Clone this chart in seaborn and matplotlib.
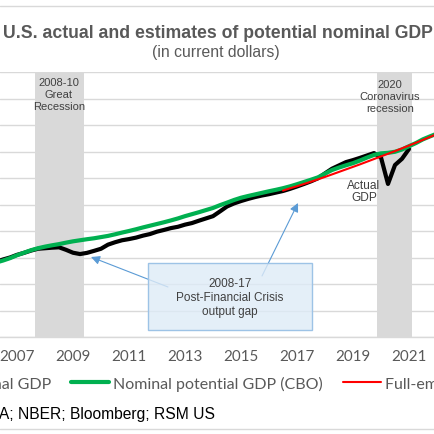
import matplotlib
matplotlib.use("Agg")
import matplotlib.pyplot as plt
from matplotlib.patches import Rectangle
from matplotlib.lines import Line2D
import seaborn as sns
import pandas as pd
import numpy as np

# ---------------- data (trillions of current dollars, quarterly) ----------------
actual_start, actual_end = "2006Q2", "2021Q1"
actual_gdp = [13.66, 13.85, 14.00,
              14.20, 14.35, 14.52, 14.66,
              14.70, 14.74, 14.77, 14.58,
              14.36, 14.26, 14.35, 14.50,
              14.66, 14.97, 15.15, 15.30,
              15.39, 15.50, 15.65, 15.77,
              15.95, 16.08, 16.22, 16.32,
              16.48, 16.60, 16.78, 16.95,
              17.12, 17.48, 17.85, 18.08,
              18.26, 18.42, 18.56, 18.68,
              18.78, 18.90, 19.02, 19.18,
              19.36, 19.55, 19.75, 19.98,
              20.35, 20.70, 20.95, 21.20,
              21.35, 21.52, 21.70, 21.88,
              21.55, 19.55, 20.98, 21.45,
              22.19]

potential_start, potential_end = "2006Q2", "2022Q1"
potential_gdp = [13.62, 13.77, 13.95,
                 14.17, 14.36, 14.55, 14.70,
                 14.82, 14.92, 15.01, 15.12,
                 15.22, 15.30, 15.38, 15.45,
                 15.54, 15.63, 15.75, 15.88,
                 16.00, 16.13, 16.27, 16.40,
                 16.53, 16.66, 16.80, 16.95,
                 17.12, 17.27, 17.42, 17.58,
                 17.74, 17.95, 18.14, 18.34,
                 18.51, 18.64, 18.76, 18.88,
                 19.00, 19.11, 19.23, 19.37,
                 19.53, 19.70, 19.87, 20.05,
                 20.33, 20.60, 20.79, 20.96,
                 21.12, 21.32, 21.54, 21.74,
                 21.86, 21.90, 21.98, 22.15,
                 22.40, 22.64, 22.92, 23.14,
                 23.35]

fullemp_start, fullemp_end = "2016Q3", "2022Q1"
fullemp_gdp = [19.05, 19.22,
               19.38, 19.55, 19.72, 19.90,
               20.08, 20.27, 20.46, 20.65,
               20.84, 21.03, 21.23, 21.43,
               21.63, 21.83, 22.03, 22.24,
               22.45, 22.66, 22.88, 23.10,
               23.32]

recessions = [(2007.64, 2009.39), (2019.86, 2021.11)]
recession_labels = ["2008-10\nGreat\nRecession", "2020\nCoronavirus\nrecession"]
series_labels = ["Actual nominal GDP", "Nominal potential GDP (CBO)",
                 "Full-employment nominal GDP"]
x_ticks = [2007, 2009, 2011, 2013, 2015, 2017, 2019, 2021]
title = "U.S. actual and estimates of potential nominal GDP"
subtitle = "(in current dollars)"
box_text = "2008-17\nPost-Financial Crisis\noutput gap"
source = "Source: BEA; NBER; Bloomberg; RSM US"


def frame(start, end, values):
    p = pd.period_range(start, end, freq="Q")
    t = p.year + (p.quarter - 1) / 4.0
    return pd.DataFrame({"t": np.asarray(t, dtype=float), "v": values})


df_act = frame(actual_start, actual_end, actual_gdp)
df_pot = frame(potential_start, potential_end, potential_gdp)
df_full = frame(fullemp_start, fullemp_end, fullemp_gdp)

# ---------------- styling ----------------
sns.set_style("white")
plt.rcParams["font.family"] = ["Liberation Sans", "DejaVu Sans"]

W = H = 435
fig = plt.figure(figsize=(4.35, 4.35), dpi=100)


def fx(px):
    return px / W


def fy(py):
    return (H - py) / H


ax = fig.add_axes([0, fy(338), 1, (338 - 73) / H])
ax.set_xlim(2007 + (0 - 17) / 28, 2007 + (435 - 17) / 28)
ax.set_ylim(8, 28)
ax.set_yticks(np.arange(8, 28.1, 2))
ax.set_yticklabels([])
ax.grid(axis="y", color="#D9D9D9", lw=1.0, zorder=0)
ax.grid(axis="x", visible=False)
ax.set_axisbelow(True)
for s in ["top", "left", "right"]:
    ax.spines[s].set_visible(False)
ax.spines["bottom"].set_color("#D9D9D9")
ax.spines["bottom"].set_linewidth(1.0)

for (a, b) in recessions:
    ax.axvspan(a, b, color="#D9D9D9", lw=0, zorder=1)

sns.lineplot(data=df_act, x="t", y="v", ax=ax, color="#000000", lw=3.0,
             label=series_labels[0], zorder=3)
sns.lineplot(data=df_pot, x="t", y="v", ax=ax, color="#00B050", lw=3.0,
             label=series_labels[1], zorder=4)
sns.lineplot(data=df_full, x="t", y="v", ax=ax, color="#FF0000", lw=1.5,
             label=series_labels[2], zorder=5)
if ax.get_legend() is not None:
    ax.get_legend().remove()

ax.set_xlabel("")
ax.set_ylabel("")
ax.set_xticks(x_ticks)
ax.set_xticklabels([str(x) for x in x_ticks])
ax.tick_params(axis="x", length=0, pad=8.5, labelsize=10.9, labelcolor="#595959")
ax.tick_params(axis="y", length=0)
for lab in ax.get_xticklabels():
    lab.set_fontfamily(["Lato", "DejaVu Sans"])


def t_of(px):
    return 2007 + (px - 17) / 28


def v_of(py):
    return 8 + (338 - py) / 13.25


# recession labels
ax.text(t_of(59), v_of(95), recession_labels[0], ha="center", va="center",
        fontsize=8.0, color="#404040", linespacing=1.25, zorder=6)
ax.text(t_of(390), v_of(97), recession_labels[1], ha="center", va="center",
        fontsize=8.0, color="#404040", linespacing=1.25, zorder=6)

# actual GDP label
ax.text(t_of(364), v_of(192), "Actual\nGDP", ha="center", va="center",
        fontsize=8.6, color="#404040", linespacing=1.05, zorder=6)

# arrows
arrow_kw = dict(arrowstyle="-|>", color="#5B9BD5", lw=0.8, mutation_scale=13,
                shrinkA=0, shrinkB=0)
ax.annotate("", xy=(t_of(91), v_of(258)), xytext=(t_of(168), v_of(288)),
            arrowprops=arrow_kw, zorder=6)
ax.annotate("", xy=(t_of(298), v_of(204)), xytext=(t_of(262), v_of(277)),
            arrowprops=arrow_kw, zorder=6)

# annotation box
ax.add_patch(Rectangle((t_of(148), v_of(331)), t_of(312) - t_of(148),
                       v_of(264) - v_of(331), facecolor="#DEEBF7", alpha=0.8,
                       edgecolor="none", zorder=7, clip_on=False))
ax.add_patch(Rectangle((t_of(148), v_of(331)), t_of(312) - t_of(148),
                       v_of(264) - v_of(331), facecolor="none",
                       edgecolor="#9DC3E6", lw=1.0, zorder=7, clip_on=False))
ax.text(t_of(230), v_of(298), box_text, ha="center", va="center",
        fontsize=8.45, color="#404040", linespacing=1.2, zorder=8)

# titles
fig.text(0.5, fy(33), title, ha="center", va="center", fontsize=12.7,
         fontweight="bold", color="#595959")
fig.text(fx(215.5), fy(53), subtitle, ha="center", va="center", fontsize=11.3,
         color="#595959")

# source
fig.text(fx(215), fy(415), source, ha="right", va="center", fontsize=11.25,
         color="#000000")

# chart border lines
fig.add_artist(Line2D([0, 1], [fy(7), fy(7)], transform=fig.transFigure,
                      color="#D9D9D9", lw=1.0))
fig.add_artist(Line2D([0, 1], [fy(430), fy(430)], transform=fig.transFigure,
                      color="#D9D9D9", lw=1.0))

# legend
leg_handles = [Line2D([], [], color="#000000", lw=3.0),
               Line2D([], [], color="#00B050", lw=3.0),
               Line2D([], [], color="#FF0000", lw=1.5)]
anchor_x = 0.0
leg = fig.legend(leg_handles, series_labels, loc="center left",
                 bbox_to_anchor=(anchor_x, fy(384)), bbox_transform=fig.transFigure,
                 ncol=3, frameon=False, handlelength=2.4, handletextpad=0.22,
                 columnspacing=1.25, borderaxespad=0, borderpad=0,
                 prop={"family": ["Lato", "DejaVu Sans"], "size": 11.5})
for txt in leg.get_texts():
    txt.set_color("#595959")
fig.canvas.draw()
renderer = fig.canvas.get_renderer()
bb = leg.get_texts()[1].get_window_extent(renderer)
dx = 113 - bb.x0
leg.set_bbox_to_anchor((anchor_x + dx / W, fy(384)), transform=fig.transFigure)

fig.savefig("out.png", dpi=100)
